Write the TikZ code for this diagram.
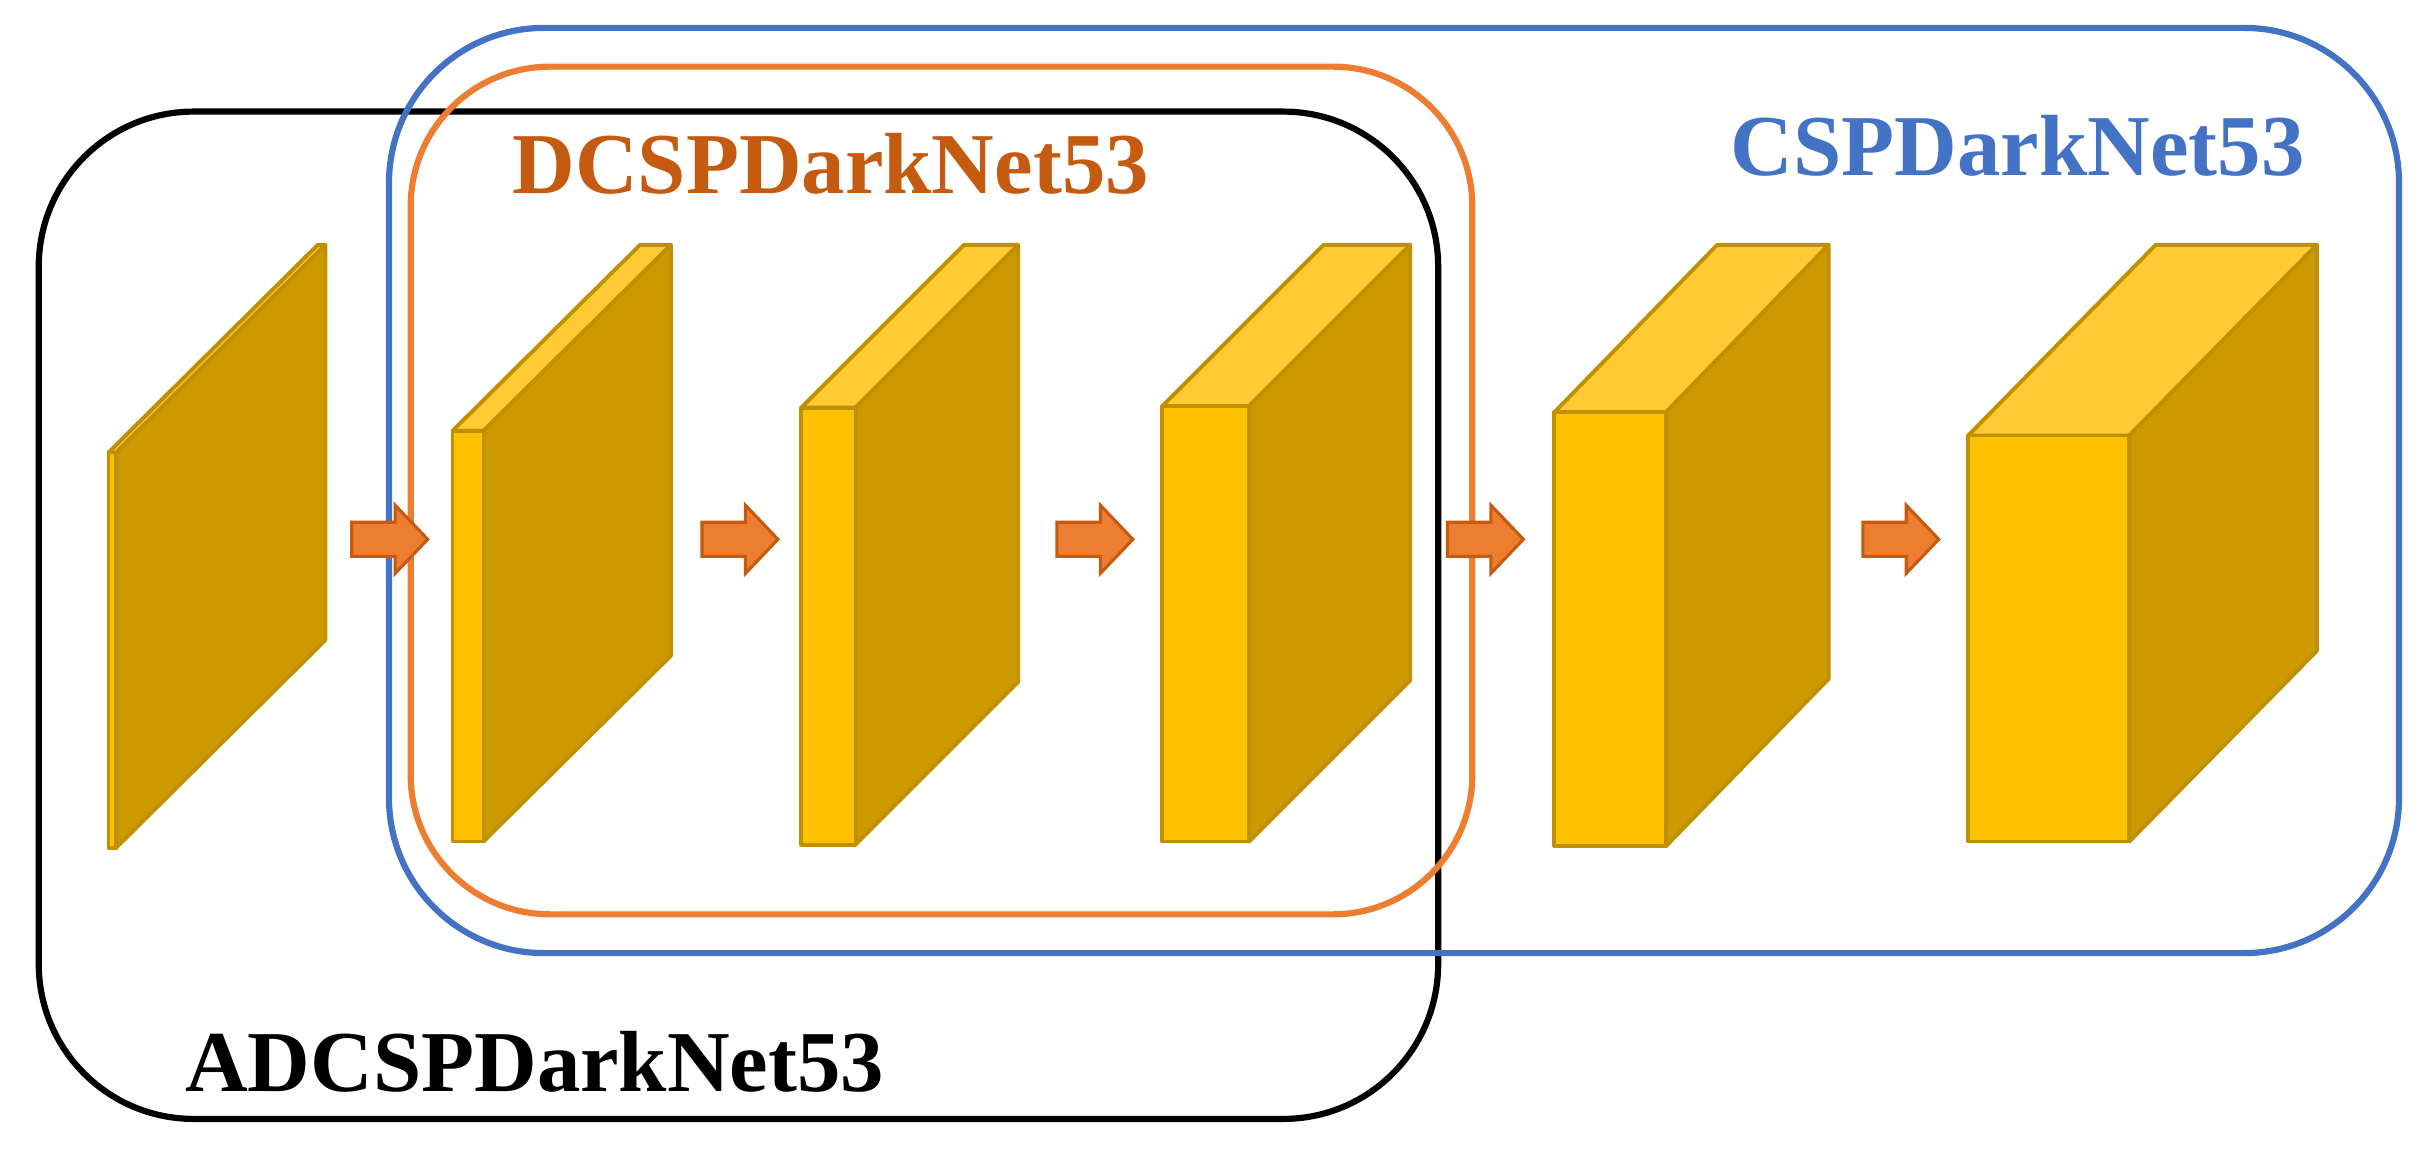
\documentclass[tikz,border=0pt]{standalone}
\usepackage{fontspec}
\setmainfont{Liberation Serif}
\begin{document}
\begin{tikzpicture}[x=1pt,y=-1pt,
 lbl/.style={font=\fontsize{56}{62}\selectfont\bfseries,inner sep=0},
 arr/.style={fill=arrfill,draw=arrline,line width=2pt,line join=miter}]
\definecolor{front}{HTML}{FFC000}
\definecolor{side}{HTML}{CC9900}
\definecolor{topc}{HTML}{FFCA33}
\definecolor{edgec}{HTML}{BF9000}
\definecolor{arrfill}{HTML}{ED7D31}
\definecolor{arrline}{HTML}{C55A11}
\definecolor{blue1}{HTML}{4472C4}
\tikzset{edge/.style={draw=edgec,line width=2.5pt,line join=round}}
\useasboundingbox (0,0) rectangle (1568,746);
% frames
\draw[black,line width=4pt,rounded corners=100pt] (25,72) rectangle (928,722);
\draw[blue1,line width=4pt,rounded corners=100pt] (251,18) rectangle (1548,615);
\draw[arrfill,line width=4pt,rounded corners=90pt] (265,43) rectangle (950,590);
% blocks: x0 x1 ytop ybot dx dy
\foreach \xa/\xb/\ya/\yb/\dx/\dy in {70/75/292/547/135/134, 292/312/278/543/121/120, 517/552/263/545/105/105, 750/806/262/543/104/104, 1003/1075/266/546/105/108, 1270/1374/281/543/121/123}{
 \fill[topc,edge] (\xa,\ya) -- ++(\dx,-\dy) -- (\xb+\dx,\ya-\dy) -- (\xb,\ya) -- cycle;
 \fill[side,edge] (\xb,\ya) -- (\xb+\dx,\ya-\dy) -- (\xb+\dx,\yb-\dy) -- (\xb,\yb) -- cycle;
 \fill[front,edge] (\xa,\ya) rectangle (\xb,\yb);
}
% arrows
\foreach \x in {227,453,682,934,1202}{
 \draw[arr] (\x,337) -- (\x+28,337) -- (\x+28,326) -- (\x+49,348) -- (\x+28,370) -- (\x+28,359) -- (\x,359) -- cycle;
}
\node[lbl,text=arrline] (d) at (536,106) {DCSPDarkNet53};
\node[lbl,text=blue1] (c) at (1302,94) {CSPDarkNet53};
\node[lbl,text=black] (a) at (345,685) {ADCSPDarkNet53};
\end{tikzpicture}
\end{document}
